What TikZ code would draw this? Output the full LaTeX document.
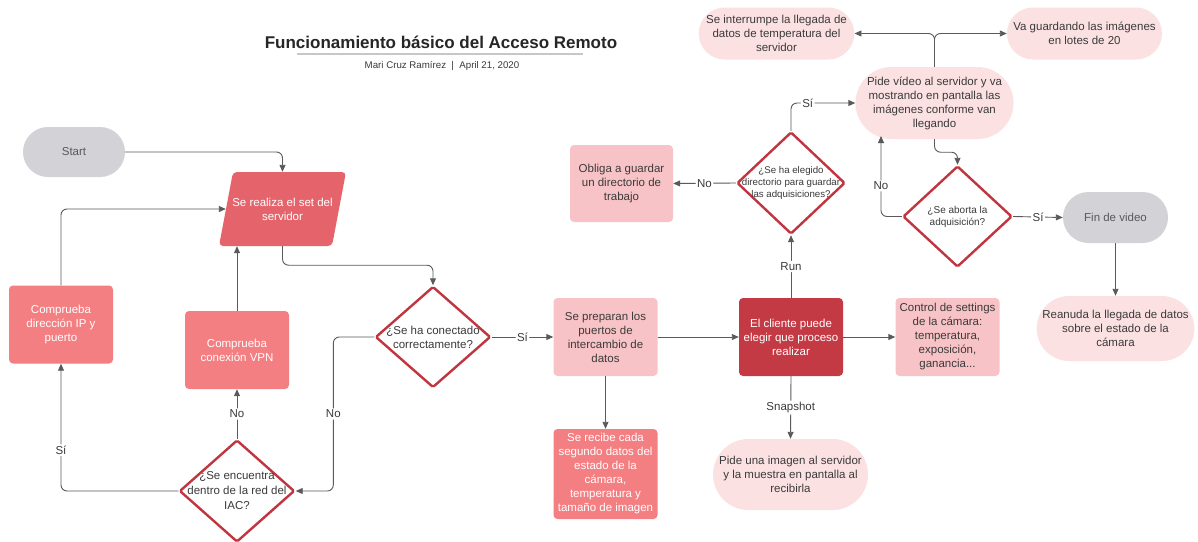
\documentclass[tikz,border=0pt]{standalone}
\usepackage{fontspec}
\setmainfont{Liberation Sans}
\usetikzlibrary{arrows.meta,shapes.geometric,shapes.misc,calc}

\definecolor{pillgray}{HTML}{D2D2D7}
\definecolor{setred}{HTML}{E5646B}
\definecolor{salmon}{HTML}{F47F82}
\definecolor{pinkbox}{HTML}{F8C3C6}
\definecolor{pinkpill}{HTML}{FCE1E3}
\definecolor{darkred}{HTML}{C43A44}
\definecolor{diamred}{HTML}{C0353F}
\definecolor{linegray}{HTML}{5A5A5A}
\definecolor{txt}{HTML}{3A3A3A}

\begin{document}
\begin{tikzpicture}[x=1pt,y=-1pt,
  base/.style={align=center, inner sep=0pt, font=\fontsize{11.5}{14}\selectfont},
  box/.style={base, rectangle, rounded corners=4pt, minimum width=104pt, minimum height=78pt},
  pill/.style={base, rounded rectangle, minimum width=#1},
  dia/.style={diamond, draw=diamred, line width=2.4pt, fill=white, inner sep=0pt, rounded corners=1.5pt},
  dtext/.style={base, text=txt},
  arr/.style={draw=linegray, line width=0.9pt, rounded corners=6pt, -{Triangle[length=7pt,width=6pt]}},
  lab/.style={fill=white, inner sep=1.5pt, text=txt, font=\fontsize{11.5}{14}\selectfont}
]
\useasboundingbox (0,0) rectangle (1198,541);
\fill[white] (0,0) rectangle (1198,541);

% title block
\node[font=\bfseries\fontsize{17}{20}\selectfont, text=black!85] (title) at (441,42) {Funcionamiento básico del Acceso Remoto};
\draw[black!22, line width=1.4pt] (297,54) -- (583,54);
\node[font=\fontsize{9.7}{11}\selectfont, text=txt] (sub) at (442,66) {Mari Cruz Ramírez \ | \ April 21, 2020};

% setup branch
\node[pill=102pt, minimum height=50pt, fill=pillgray, text=black!65] (start) at (74,152) {Start};
\fill[setred, rounded corners=4pt] (219,246) -- (233,172) -- (346,172) -- (332,246) -- cycle;
\node[base, minimum width=113pt, minimum height=74pt, text=white] (set) at (282.5,209) {Se realiza el set del\\servidor};
\node[box, fill=salmon, text=white] (ip) at (61,324.5) {Comprueba\\dirección IP y\\puerto};
\node[box, fill=salmon, text=white] (vpn) at (237,350) {Comprueba\\conexión VPN};
\node[dia, minimum width=115pt, minimum height=102pt] (d1) at (237,491) {};
\node[dtext, font=\fontsize{11.5}{15}\selectfont] (d1t) at (d1) {¿Se encuentra\\dentro de la red del\\IAC?};
\node[dia, minimum width=115pt, minimum height=101pt] (d2) at (433,337) {};
\node[dtext] (d2t) at (d2) {¿Se ha conectado\\correctamente?};

% main line
\node[box, fill=pinkbox, text=txt] (prep) at (605.5,337) {Se preparan los\\puertos de\\intercambio de\\datos};
\node[box, minimum height=90pt, fill=salmon, text=white] (recv) at (605.5,474) {Se recibe cada\\segundo datos del\\estado de la\\cámara,\\temperatura y\\tamaño de imagen};
\node[box, fill=darkred, text=white] (cli) at (791,337) {El cliente puede\\elegir que proceso\\realizar};
\node[box, fill=pinkbox, text=txt] (ctrl) at (947.5,337) {Control de settings\\de la cámara:\\temperatura,\\exposición,\\ganancia...};
\node[pill=155pt, minimum height=71pt, fill=pinkpill, text=txt] (pimg) at (790.5,474.5) {Pide una imagen al servidor\\y la muestra en pantalla al\\recibirla};

% run branch
\node[dia, minimum width=108pt, minimum height=102pt] (d3) at (791,183) {};
\node[dtext, font=\fontsize{9.7}{12}\selectfont] (d3t) at (d3) {¿Se ha elegido\\directorio para guardar\\las adquisiciones?};
\node[box, minimum width=103pt, minimum height=77pt, fill=pinkbox, text=txt] (obl) at (621.5,183.5) {Obliga a guardar\\un directorio de\\trabajo};
\node[pill=156pt, minimum height=72pt, fill=pinkpill, text=txt] (pvid) at (934.5,103) {Pide vídeo al servidor y va\\mostrando en pantalla las\\imágenes conforme van\\llegando};
\node[pill=151pt, minimum height=52pt, fill=pinkpill, text=txt] (sint) at (776.5,33.5) {Se interrumpe la llegada de\\datos de temperatura del\\servidor};
\node[pill=155pt, minimum height=52pt, fill=pinkpill, text=txt] (vag) at (1084.5,33.5) {Va guardando las imágenes\\en lotes de 20};
\node[dia, minimum width=109pt, minimum height=101pt] (d4) at (957.5,216.5) {};
\node[dtext, font=\fontsize{10}{12}\selectfont] (d4t) at (d4) {¿Se aborta la\\adquisición?};
\node[pill=105pt, minimum height=51pt, fill=pillgray, text=black!65] (fin) at (1115.5,217.5) {Fin de video};
\node[pill=155pt, minimum height=65pt, fill=pinkpill, text=txt] (rean) at (1115.5,328.5) {Reanuda la llegada de datos\\sobre el estado de la\\cámara};
\coordinate (pvidNo) at (881,136);

% connectors
\draw[arr] (start.east) -| (set.north);
\draw[arr] (ip.north) |- (set.west);
\draw[arr] (vpn.north) -- (vpn.north |- set.south);
\draw[arr] (d1.north) -- node[lab] {No} (vpn.south);
\draw[arr] (d1.west) -| node[lab, pos=0.66] {Sí} (ip.south);
\draw[arr] (d2.west) -- ++(-41,0) |- node[lab, pos=0.25] {No} (d1.east);
\draw[arr] (set.south) -- ++(0,19) -| (d2.north);
\draw[arr] (d2.east) -- node[lab] {Sí} (prep.west);
\draw[arr] (prep.south) -- (recv.north);
\draw[arr] (prep.east) -- (cli.west);
\draw[arr] (cli.east) -- (ctrl.west);
\draw[arr] (cli.south) -- node[lab] {Snapshot} (pimg.north);
\draw[arr] (cli.north) -- node[lab] {Run} (d3.south);
\draw[arr] (d3.west) -- node[lab] {No} (obl.east);
\draw[arr] (d3.north) |- node[lab, pos=0.63] {Sí} (pvid.west);
\draw[arr] (pvid.north) |- (sint.east);
\draw[arr] (pvid.north) |- (vag.west);
\draw[arr] (pvid.south) -- ++(0,13) -| (d4.north);
\draw[arr] (d4.west) -| node[lab, pos=0.69] {No} (pvidNo);
\draw[arr] (d4.east) -- node[lab] {Sí} (fin.west);
\draw[arr] (fin.south) -- (rean.north);
\end{tikzpicture}
\end{document}
